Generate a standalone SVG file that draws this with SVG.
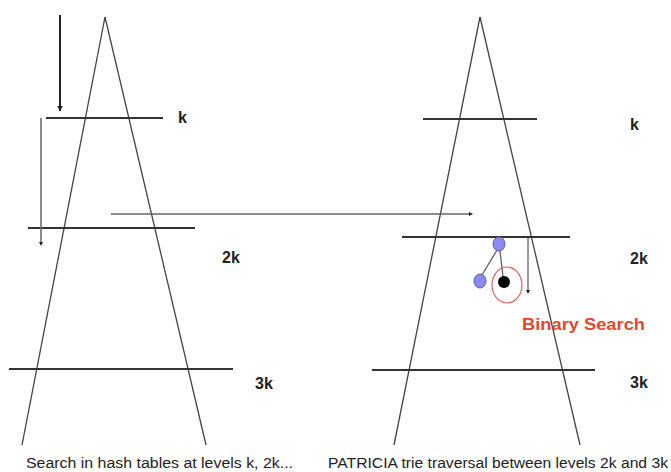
<svg xmlns="http://www.w3.org/2000/svg" width="671" height="472" viewBox="0 0 671 472">
<style>
.leg{stroke:#444;stroke-width:1.3;fill:none}
.lvl{stroke:#333;stroke-width:2;fill:none}
.lab{font-family:"Liberation Sans",Arial,sans-serif;font-weight:bold;font-size:16px;fill:#222}
.cap{font-family:"Liberation Sans",Arial,sans-serif;font-size:14px;fill:#222}
.blue{fill:#8c8cf0;stroke:#5a5ab4;stroke-width:1}
</style>
<defs>
<marker id="ah" viewBox="0 0 10 10" refX="9" refY="5" markerWidth="6" markerHeight="6" orient="auto" markerUnits="userSpaceOnUse"><path d="M0,0 L10,5 L0,10 z" fill="#222"/></marker>
<marker id="dot" viewBox="0 0 10 10" refX="5" refY="5" markerWidth="4" markerHeight="4" orient="auto" markerUnits="userSpaceOnUse"><path d="M0,0 L10,5 L0,10 z" fill="#222"/></marker>
</defs>
<rect width="671" height="472" fill="#fff"/>
<g id="left-trie">
<line class="leg" x1="105" y1="17" x2="22" y2="445"/>
<line class="leg" x1="105" y1="17" x2="206" y2="445"/>
<line class="lvl" x1="46" y1="118" x2="163" y2="118"/>
<line class="lvl" x1="28" y1="228" x2="195" y2="228"/>
<line class="lvl" x1="9" y1="369" x2="233" y2="369"/>
<text class="lab" x="178" y="123">k</text>
<text class="lab" x="222" y="263">2k</text>
<text class="lab" x="255" y="389">3k</text>
</g>
<g id="right-trie">
<line class="leg" x1="480" y1="17" x2="394" y2="445"/>
<line class="leg" x1="480" y1="17" x2="580" y2="445"/>
<line class="lvl" x1="423" y1="119" x2="537" y2="119"/>
<line class="lvl" x1="402" y1="237" x2="570" y2="237"/>
<line class="lvl" x1="372" y1="370" x2="595" y2="370"/>
<text class="lab" x="630" y="130">k</text>
<text class="lab" x="630" y="264">2k</text>
<text class="lab" x="630" y="388">3k</text>
</g>
<g id="connectors">
<line x1="60" y1="15" x2="60" y2="111" stroke="#222" stroke-width="2" marker-end="url(#ah)"/>
<line x1="41" y1="118" x2="41" y2="244" stroke="#666" stroke-width="1.5" marker-end="url(#dot)"/>
<line x1="111" y1="214" x2="471" y2="214" stroke="#666" stroke-width="1.5" marker-end="url(#dot)"/>
<line x1="528" y1="238" x2="528" y2="292" stroke="#777" stroke-width="1.5" marker-end="url(#dot)"/>
<line x1="497" y1="250" x2="482" y2="275" stroke="#555" stroke-width="1.2"/>
<line x1="500" y1="251" x2="503" y2="277" stroke="#555" stroke-width="1.2"/>
</g>
<g id="node-top"><ellipse class="blue" cx="499" cy="244" rx="6" ry="7"/></g>
<g id="node-left"><ellipse class="blue" cx="480" cy="281" rx="6" ry="7"/></g>
<g id="node-target">
<ellipse cx="507" cy="285" rx="15" ry="18" fill="none" stroke="#e06060" stroke-width="1.2"/>
<circle cx="504" cy="282" r="6" fill="#000"/>
</g>
<text x="522" y="330" font-family="'Liberation Sans',Arial,sans-serif" font-weight="bold" font-size="17" fill="#e8452e" textLength="123" lengthAdjust="spacingAndGlyphs">Binary Search</text>
<text class="cap" x="26" y="468" textLength="267" lengthAdjust="spacingAndGlyphs">Search in hash tables at levels k, 2k...</text>
<text class="cap" x="328" y="468" textLength="340" lengthAdjust="spacingAndGlyphs">PATRICIA trie traversal between levels 2k and 3k</text>
</svg>
